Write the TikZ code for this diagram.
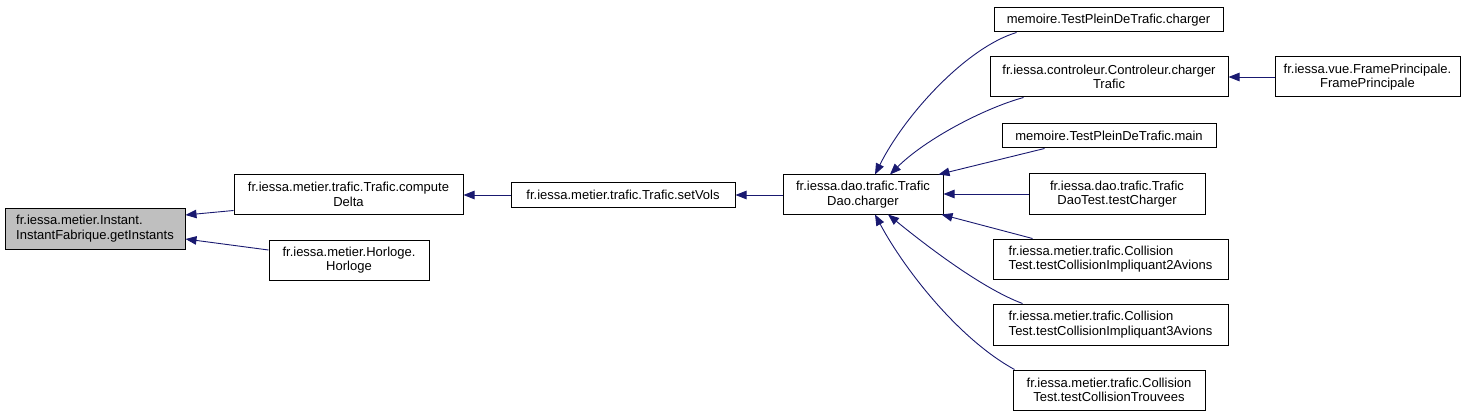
\documentclass[tikz,border=0pt]{standalone}
\usepackage{fontspec}
\setmainfont{Liberation Sans}
\usetikzlibrary{arrows.meta,calc}
\definecolor{edgeblue}{RGB}{25,25,112}
\definecolor{focusgrey}{RGB}{191,191,191}
\tikzset{
  box/.style={draw=black, line width=1pt, inner sep=0pt, align=center,
    font=\fontsize{13}{14.5}\selectfont},
  focus/.style={box, fill=focusgrey},
  edge/.style={draw=edgeblue, line width=0.9pt, -{Triangle[length=11pt,width=8.5pt]}}
}
\begin{document}
\begin{tikzpicture}[x=1pt,y=-1pt]
\useasboundingbox (0,0) rectangle (1473,417);
\node[focus, minimum width=180pt, minimum height=41pt, align=left] (A) at (95,228.5) {fr.iessa.metier.Instant.\\InstantFabrique.getInstants};
\node[box, minimum width=229pt, minimum height=39pt] (B) at (348.5,194.5) {fr.iessa.metier.trafic.Trafic.compute\\Delta};
\node[box, minimum width=160pt, minimum height=40pt] (C) at (349,260) {fr.iessa.metier.Horloge.\\Horloge};
\node[box, minimum width=224pt, minimum height=24pt] (D) at (623,195) {fr.iessa.metier.trafic.Trafic.setVols};
\node[box, minimum width=160pt, minimum height=39pt] (E) at (863,194.5) {fr.iessa.dao.trafic.Trafic\\Dao.charger};
\node[box, minimum width=229pt, minimum height=24pt] (F) at (1108.5,20) {memoire.TestPleinDeTrafic.charger};
\node[box, minimum width=238pt, minimum height=40pt] (G) at (1109,77) {fr.iessa.controleur.Controleur.charger\\Trafic};
\node[box, minimum width=185pt, minimum height=40pt] (H) at (1367.5,77) {fr.iessa.vue.FramePrincipale.\\FramePrincipale};
\node[box, minimum width=214pt, minimum height=24pt] (I) at (1109,136) {memoire.TestPleinDeTrafic.main};
\node[box, minimum width=176pt, minimum height=40pt] (J) at (1117,194) {fr.iessa.dao.trafic.Trafic\\DaoTest.testCharger};
\node[box, minimum width=235pt, minimum height=40pt, align=left] (K) at (1110.5,259) {fr.iessa.metier.trafic.Collision\\Test.testCollisionImpliquant2Avions};
\node[box, minimum width=235pt, minimum height=41pt, align=left] (L) at (1110.5,324.5) {fr.iessa.metier.trafic.Collision\\Test.testCollisionImpliquant3Avions};
\node[box, minimum width=192pt, minimum height=40pt] (M) at (1109,390) {fr.iessa.metier.trafic.Collision\\Test.testCollisionTrouvees};

\draw[edge] ([yshift=4pt]B.south west) -- ([yshift=13.5pt]A.east);
\draw[edge] ([yshift=10pt]C.west) -- ([yshift=-10.5pt]A.east);
\draw[edge] (D.west) -- (B.east |- D.west);
\draw[edge] (E.west |- D.east) -- (D.east);
\draw[edge] ([xshift=23pt]F.south west) .. controls +(-50,15) and +(30,-60) .. ([xshift=12pt]E.north);
\draw[edge] ([xshift=34pt]G.south west) .. controls +(-40,11) and +(35,-35) .. ([xshift=27pt]E.north);
\draw[edge] ([xshift=43pt]I.south west) -- ([xshift=-5pt]E.north east);
\draw[edge] (H.west) -- (G.east);
\draw[edge] (J.west) -- (E.east |- J.west);
\draw[edge] ([xshift=40pt]K.north west) -- ([xshift=-2pt]E.south east);
\draw[edge] ([xshift=30pt]L.north west) .. controls +(-43,-16) and +(32,26) .. ([xshift=25pt]E.south);
\draw[edge] ([xshift=2pt]M.north west) .. controls +(-55,-30) and +(30,56) .. ([xshift=12pt]E.south);
\end{tikzpicture}
\end{document}
